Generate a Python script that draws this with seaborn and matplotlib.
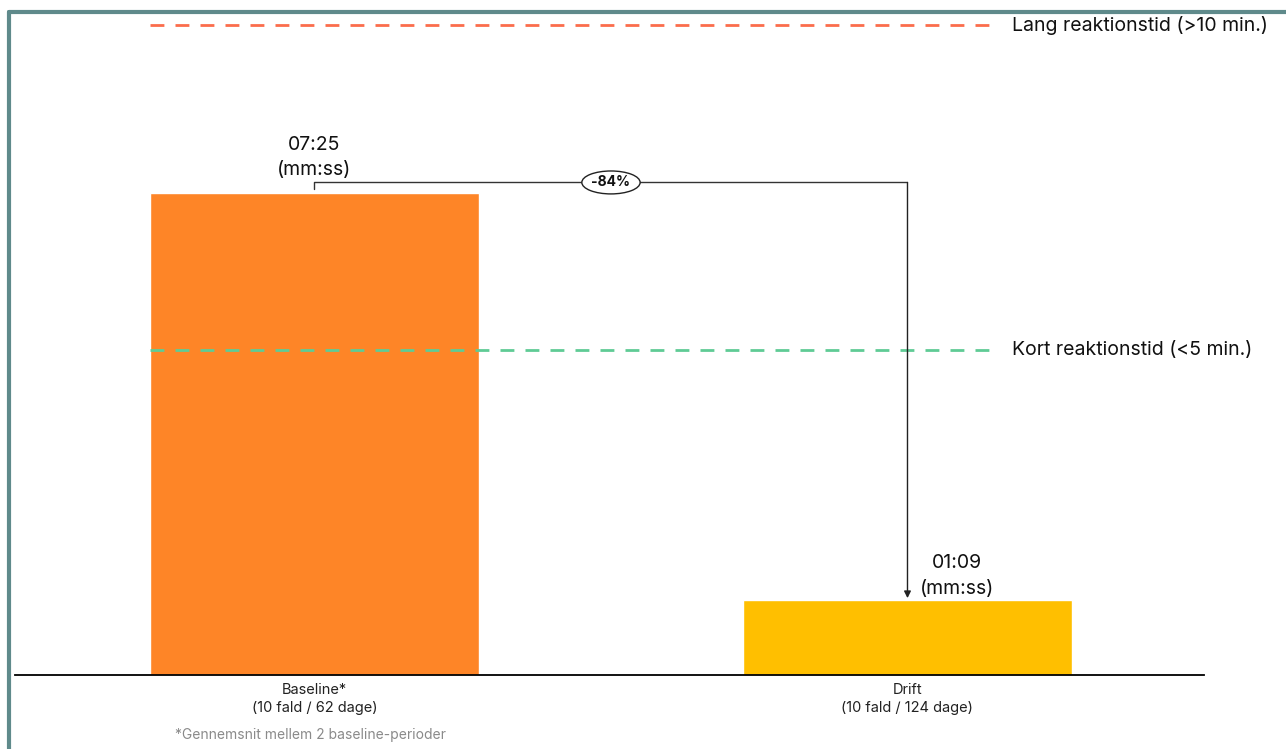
import matplotlib
matplotlib.use("Agg")
import matplotlib.pyplot as plt
import seaborn as sns
import pandas as pd
from matplotlib.lines import Line2D

# ---- data ----
categories = ["Baseline*\n(10 fald / 62 dage)", "Drift\n(10 fald / 124 dage)"]
values_sec = [445, 69]            # 07:25 and 01:09 in seconds
value_labels = ["07:25\n(mm:ss)", "01:09\n(mm:ss)"]
bar_colors = ["#fe8527", "#ffbf00"]
ref_values = [600, 300]           # 10 min, 5 min
ref_labels = ["Lang reaktionstid (>10 min.)", "Kort reaktionstid (<5 min.)"]
ref_colors = ["#fb6d4c", "#5fcb95"]
change_label = "-84%"
footnote = "*Gennemsnit mellem 2 baseline-perioder"

sns.set_theme(style="white")
plt.rcParams["font.family"] = ["Inter", "DejaVu Sans"]

W, H = 1286, 749
fig = plt.figure(figsize=(W / 100, H / 100), dpi=100)
ax = fig.add_axes([15 / W, (H - 675) / H, (1204 - 15) / W, 669 / H])

df = pd.DataFrame({"cat": categories, "val": values_sec})
sns.barplot(data=df, x="cat", y="val", hue="cat", palette=bar_colors,
            order=categories, width=0.555, legend=False, ax=ax, saturation=1)

ax.set_xlim(-0.505, 1.5)
ax.set_ylim(0, 618)
ax.set_xlabel("")
ax.set_ylabel("")
ax.set_yticks([])
for s in ["top", "right", "left"]:
    ax.spines[s].set_visible(False)
ax.spines["bottom"].set_color("black")
ax.spines["bottom"].set_linewidth(1.3)
ax.tick_params(axis="x", length=0, pad=6)
for t in ax.get_xticklabels():
    t.set_fontsize(10.5)
    t.set_color("#222222")
    t.set_linespacing(1.35)

# reference lines
for v, lab, c in zip(ref_values, ref_labels, ref_colors):
    ax.plot([-0.277, 1.156], [v, v], color=c, lw=2, dashes=(5, 4), zorder=1)
    ax.text(1.176, v, lab, fontsize=14, va="center", ha="left",
            color="#111111", clip_on=False)

# value labels (offset in points above bar top)
x_off = [0.0, 0.084]
y_off_pt = [10.0, 2.0]
for i, (v, lab) in enumerate(zip(values_sec, value_labels)):
    ax.annotate(lab, xy=(i + x_off[i], v), xytext=(0, y_off_pt[i]),
                textcoords="offset points", ha="center", va="bottom",
                fontsize=14, color="#111111", linespacing=1.55)

# bracket with arrow
yb = values_sec[0] + 10
ax.plot([0, 0, 1], [values_sec[0] + 4, yb, yb], color="#333333", lw=1, zorder=3)
ax.annotate("", xy=(1, values_sec[1] + 2), xytext=(1, yb),
            arrowprops=dict(arrowstyle="-|>", color="#222222", lw=1,
                            mutation_scale=10, shrinkA=0, shrinkB=0), zorder=3)
ax.text(0.5, yb, change_label, ha="center", va="center", fontsize=10,
        fontweight="bold", color="#111111", zorder=4,
        bbox=dict(boxstyle="ellipse,pad=0.08", fc="white", ec="#222222", lw=1))

# footnote
fig.text(175 / W, 1 - 735 / H, footnote, fontsize=10, color="#8a8a8a",
         ha="left", va="center")

# frame
fc = "#5f8a8b"
fig.add_artist(Line2D([9 / W, 9 / W], [0, 1 - 12 / H], color=fc, lw=3,
                      transform=fig.transFigure))
fig.add_artist(Line2D([9 / W, 1], [1 - 12 / H, 1 - 12 / H], color=fc, lw=3,
                      transform=fig.transFigure))

fig.savefig("out.png", dpi=100)
